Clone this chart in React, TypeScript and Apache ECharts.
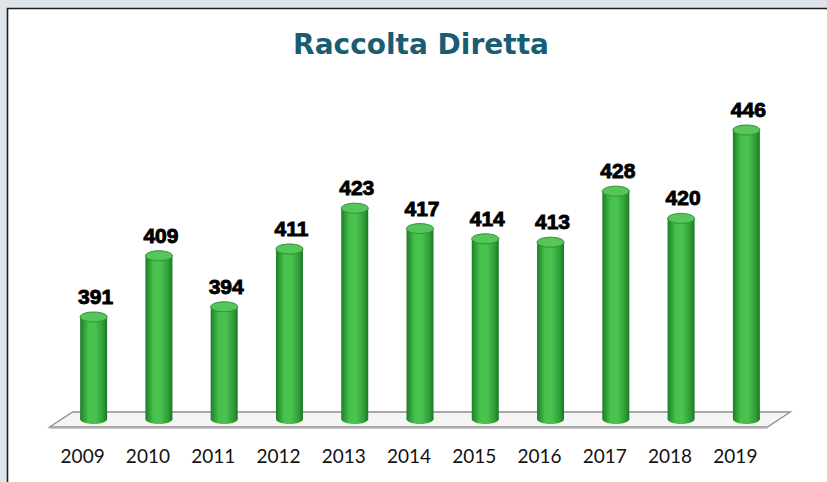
import React, { useEffect, useRef } from "react";
import * as echarts from "echarts";

const years = ["2009", "2010", "2011", "2012", "2013", "2014", "2015", "2016", "2017", "2018", "2019"];
const values = [391, 409, 394, 411, 423, 417, 414, 413, 428, 420, 446];
const titleText = "Raccolta Diretta";
const yMin = 361;
const yMax = 461;

export default function App() {
  const ref = useRef<HTMLDivElement>(null);
  useEffect(() => {
    const chart = echarts.init(ref.current as HTMLDivElement, null, { renderer: "svg" });
    const bodyGrad = () =>
      new echarts.graphic.LinearGradient(0, 0, 1, 0, [
        { offset: 0, color: "#1e7d27" },
        { offset: 0.3, color: "#46c14c" },
        { offset: 0.55, color: "#4ac44f" },
        { offset: 0.85, color: "#2f9c37" },
        { offset: 1, color: "#1d7625" },
      ]);
    const option: any = {
      animation: false,
      backgroundColor: "#dfe3ea",
      graphic: [
        {
          type: "rect",
          z: 0,
          shape: { x: 7.5, y: 8.5, width: 840, height: 500 },
          style: { fill: "#ffffff", stroke: "#1e1e1e", lineWidth: 1.6 },
        },
        {
          type: "text",
          z: 10,
          x: 421,
          y: 44,
          style: {
            text: titleText,
            textAlign: "center",
            textVerticalAlign: "middle",
            align: "center",
            verticalAlign: "middle",
            font: 'bold 28px "DejaVu Sans"',
            fill: "#1a5d72",
          },
        },
      ],
      grid: { left: 61, right: 48, top: 79, bottom: 63 },
      xAxis: {
        type: "category",
        data: years,
        axisLine: { show: false },
        axisTick: { show: false },
        axisLabel: {
          margin: 27,
          fontFamily: "Lato",
          fontSize: 19,
          color: "#111111",
          padding: [0, 22, 0, 0],
        },
      },
      yAxis: { type: "value", min: yMin, max: yMax, show: false },
      series: [
        {
          type: "custom",
          z: 1,
          data: [[0]],
          renderItem: (params: any, api: any) => {
            const l = api.coord([0, yMin]);
            const r = api.coord([years.length - 1, yMin]);
            const y = l[1];
            return {
              type: "group",
              children: [
                {
                  type: "polygon",
                  shape: {
                    points: [
                      [l[0] - 44, y + 8],
                      [l[0] - 21, y - 7],
                      [r[0] + 44, y - 7],
                      [r[0] + 21, y + 8],
                    ],
                  },
                  style: { fill: "#f5f5f5", stroke: "#8f8f8f", lineWidth: 1.3 },
                },
                {
                  type: "line",
                  shape: { x1: l[0] - 44, y1: y + 9, x2: r[0] + 21, y2: y + 9 },
                  style: { stroke: "#b5b5b5", lineWidth: 1.5 },
                },
              ],
            };
          },
        },
        {
          type: "custom",
          z: 3,
          data: values.map((v, i) => [i, v]),
          renderItem: (params: any, api: any) => {
            const idx = api.value(0);
            const v = api.value(1);
            const top = api.coord([idx, v]);
            const base = api.coord([idx, yMin]);
            const bw = 27;
            const rx = bw / 2;
            const ry = 5;
            const cx = top[0];
            return {
              type: "group",
              children: [
                {
                  type: "ellipse",
                  shape: { cx, cy: base[1], rx, ry },
                  style: { fill: bodyGrad() },
                },
                {
                  type: "rect",
                  shape: { x: cx - rx, y: top[1], width: bw, height: base[1] - top[1] },
                  style: { fill: bodyGrad() },
                },
                {
                  type: "ellipse",
                  shape: { cx, cy: top[1], rx, ry },
                  style: { fill: "#56c65b", stroke: "#2f9136", lineWidth: 1 },
                },
                {
                  type: "text",
                  style: {
                    text: String(v),
                    x: cx + 2,
                    y: top[1] - ry - 5,
                    textAlign: "center",
                    textVerticalAlign: "bottom",
                    align: "center",
                    verticalAlign: "bottom",
                    font: 'bold 21px "Liberation Sans"',
                    fill: "#000000",
                    stroke: "#000000",
                    lineWidth: 0.9,
                  },
                },
              ],
            };
          },
        },
      ],
    };
    chart.setOption(option);
    return () => chart.dispose();
  }, []);
  return (
    <div
      ref={ref}
      style={{ position: "fixed", left: 0, top: 0, width: 827, height: 482 }}
    />
  );
}
